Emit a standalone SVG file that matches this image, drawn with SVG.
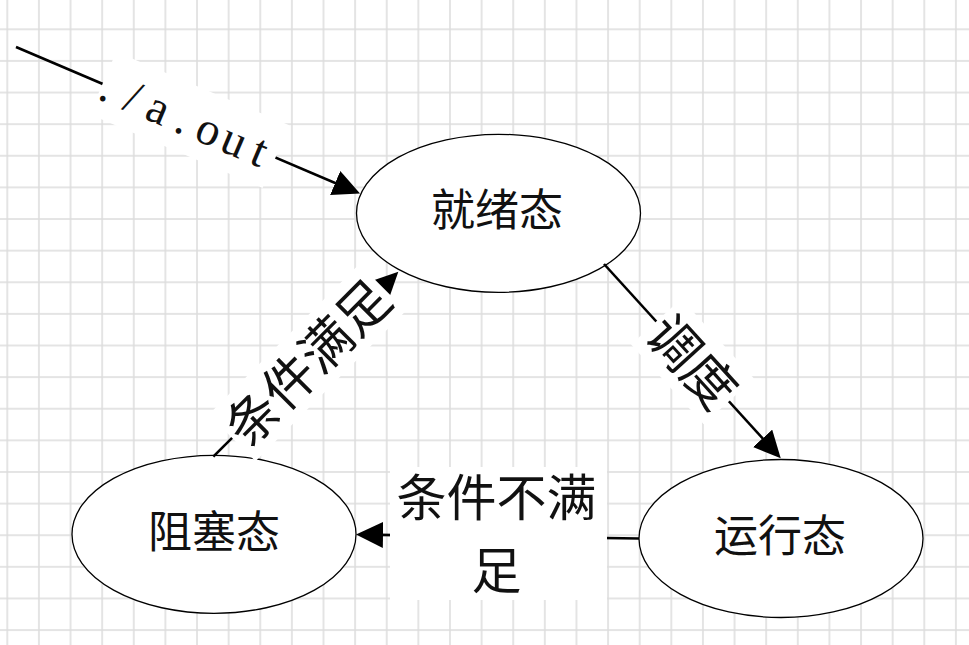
<svg xmlns="http://www.w3.org/2000/svg" width="969" height="645" viewBox="0 0 969 645">
  <style>
    .node { fill: #ffffff; stroke: #000000; stroke-width: 1.3; }
    .ntext { font-family: "Noto Sans CJK SC", sans-serif; font-size: 44px; fill: #111111; text-anchor: middle; }
    .edge { fill: none; stroke: #000000; stroke-width: 2.6; marker-end: url(#arrow); }
    .lbg { fill: #ffffff; stroke: none; }
    .ltext { font-family: "Noto Sans CJK SC", sans-serif; font-size: 52px; fill: #111111; text-anchor: middle; }
    .ltext2 { font-family: "Noto Sans CJK SC", sans-serif; font-size: 50px; fill: #111111; text-anchor: middle; }
    .mono { font-family: "Liberation Serif", serif; font-size: 47px; fill: #111111; }
  </style>
  <defs>
    <pattern id="grid" patternUnits="userSpaceOnUse" x="-8.51" y="13.49" width="31.62" height="31.62">
      <path d="M15.81 0 V31.62 M0 15.81 H31.62" stroke="#dcdcdc" stroke-width="1.5" fill="none"/>
    </pattern>
    <marker id="arrow" markerUnits="userSpaceOnUse" markerWidth="28" markerHeight="28" refX="21" refY="13" orient="auto">
      <path d="M0,0 L27,13 L0,26 Z" fill="#000000"/>
    </marker>
  </defs>

  <rect x="0" y="0" width="969" height="645" fill="#ffffff"/>
  <rect x="0" y="0" width="969" height="645" fill="url(#grid)"/>

  <g id="node-ready">
    <ellipse class="node" cx="498.5" cy="213.3" rx="142" ry="79"/>
    <text class="ntext" x="497" y="225.5">就绪态</text>
  </g>
  <g id="node-blocked">
    <ellipse class="node" cx="214" cy="534.3" rx="142" ry="79"/>
    <text class="ntext" x="214" y="547.5">阻塞态</text>
  </g>
  <g id="node-running">
    <ellipse class="node" cx="781" cy="538.5" rx="142" ry="79"/>
    <text class="ntext" x="780" y="551.5">运行态</text>
  </g>

  <g id="connectors">
    <g id="edge-start">
      <line class="edge" x1="16" y1="47" x2="354.5" y2="191.2"/>
      <g transform="translate(189,120.7) rotate(23.07)">
        <rect class="lbg" x="-94" y="-35" width="188" height="68"/>
        <text class="mono" x="-94 -67.2 -43.5 -11.5 10.3 37.8 70.4" y="15.5">./a.out</text>
      </g>
    </g>
    <g id="edge-schedule">
      <line class="edge" x1="604" y1="264" x2="776.7" y2="453.9"/>
      <g transform="translate(692.5,361.5) rotate(47.7)">
        <rect class="lbg" x="-54" y="-34" width="108" height="68"/>
        <text class="ltext" x="0" y="19.5">调度</text>
      </g>
    </g>
    <g id="edge-satisfied">
      <line class="edge" x1="213.3" y1="456.7" x2="394.1" y2="275.9"/>
      <g transform="translate(307.4,362.6) rotate(-45)">
        <rect class="lbg" x="-106.5" y="-33" width="213" height="66"/>
        <text class="ltext" x="0" y="19.5">条件满足</text>
      </g>
    </g>
    <g id="edge-unsatisfied">
      <line class="edge" x1="639" y1="538.5" x2="362" y2="534.6"/>
      <rect class="lbg" x="390" y="467" width="217" height="133"/>
      <text class="ltext2"><tspan x="496.5" y="516">条件不满</tspan><tspan x="496.5" y="589">足</tspan></text>
    </g>
  </g>
</svg>
